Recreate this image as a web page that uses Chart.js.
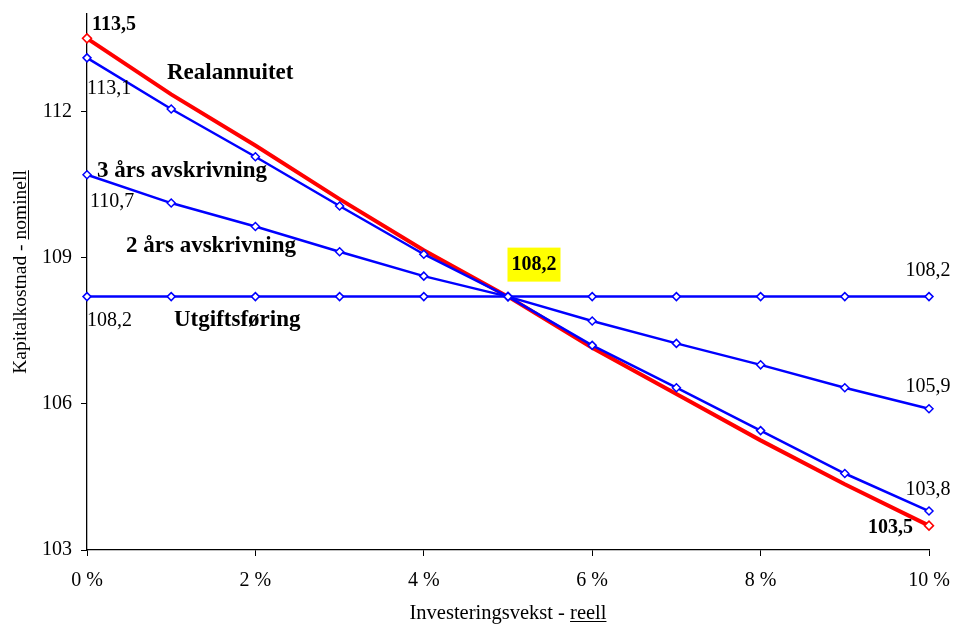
<!DOCTYPE html>
<html>
<head>
<meta charset="utf-8">
<script src="https://cdn.jsdelivr.net/npm/chart.js@4/dist/chart.umd.min.js"></script>
<style>
  html, body { margin: 0; padding: 0; background: #fff; }
  #wrap { width: 957px; height: 625px; position: relative; }
</style>
</head>
<body>
<div id="wrap"><canvas id="c" width="957" height="625"></canvas></div>
<script>
// ---- Data ----
const growthPct = [0, 1, 2, 3, 4, 5, 6, 7, 8, 9, 10];
const realannuitet = [113.5, 112.35, 111.3, 110.2, 109.15, 108.2, 107.15, 106.2, 105.25, 104.35, 103.5];
const ettArs = [113.1, 112.05, 111.07, 110.06, 109.07, 108.2, 107.2, 106.33, 105.45, 104.57, 103.8];
const treArs = [110.7, 110.12, 109.64, 109.12, 108.62, 108.2, 107.7, 107.24, 106.8, 106.33, 105.9];
const utgiftsforing = [108.2, 108.2, 108.2, 108.2, 108.2, 108.2, 108.2, 108.2, 108.2, 108.2, 108.2];
const yTicks = [103, 106, 109, 112];
const xTicks = [0, 2, 4, 6, 8, 10];

const SERIF = '"Liberation Serif", "Times New Roman", serif';
const BLUE = '#0000ff';
const RED = '#ff0000';

function pts(vals) { return vals.map((v, i) => ({ x: growthPct[i], y: v })); }

// value labels: [xValue, yValue, text, bold, align, dx, dy, highlight]
const valueLabels = [
  [0, 113.5, '113,5', true, 'left', 5, -14, false],
  [0, 113.1, '113,1', false, 'left', 0, 31, false],
  [0, 110.7, '110,7', false, 'left', 3, 27, false],
  [0, 108.2, '108,2', false, 'left', 0, 24, false],
  [5, 108.2, '108,2', true, 'center', 26, -32, true],
  [10, 108.2, '108,2', false, 'center', -1, -26, false],
  [10, 105.9, '105,9', false, 'center', -1, -22, false],
  [10, 103.8, '103,8', false, 'center', -1, -21, false],
  [10, 103.5, '103,5', true, 'right', -16, 2, false]
];
// series name labels: [xValue, yValue, text]
const nameLabels = [
  [0.95, 112.78, 'Realannuitet'],
  [0.119, 110.785, '3 års avskrivning'],
  [0.463, 109.24, '2 års avskrivning'],
  [1.033, 107.72, 'Utgiftsføring']
];

const labelPlugin = {
  id: 'labels',
  afterDatasetsDraw(chart) {
    const ctx = chart.ctx;
    const xs = chart.scales.x, ys = chart.scales.y;
    ctx.save();
    ctx.textBaseline = 'middle';
    valueLabels.forEach(([xv, yv, t, bold, align, dx, dy, hl]) => {
      const px = xs.getPixelForValue(xv) + dx;
      const py = ys.getPixelForValue(yv) + dy;
      ctx.font = (bold ? 'bold ' : '') + '20px ' + SERIF;
      ctx.textAlign = align;
      if (hl) {
        const w = ctx.measureText(t).width;
        ctx.fillStyle = '#ffff00';
        ctx.fillRect(px - w / 2 - 4, py - 17, w + 8, 34);
      }
      ctx.fillStyle = '#000';
      ctx.fillText(t, px, py);
    });
    ctx.font = 'bold 23px ' + SERIF;
    ctx.textAlign = 'left';
    nameLabels.forEach(([xv, yv, t]) => {
      ctx.fillStyle = '#000';
      ctx.fillText(t, xs.getPixelForValue(xv), ys.getPixelForValue(yv));
    });
    ctx.restore();
  }
};

const titlePlugin = {
  id: 'axisTitles',
  afterDraw(chart) {
    const ctx = chart.ctx;
    const ca = chart.chartArea;
    ctx.save();
    ctx.fillStyle = '#000';
    ctx.strokeStyle = '#000';
    ctx.lineWidth = 1;
    ctx.textBaseline = 'alphabetic';
    ctx.textAlign = 'left';
    // x title
    ctx.font = '20.5px ' + SERIF;
    const a = 'Investeringsvekst - ', b = 'reell';
    const wa = ctx.measureText(a).width, wb = ctx.measureText(b).width;
    let x0 = (ca.left + ca.right) / 2 - (wa + wb) / 2;
    const yb = 619;
    ctx.fillText(a, x0, yb);
    ctx.fillText(b, x0 + wa, yb);
    ctx.beginPath();
    ctx.moveTo(x0 + wa, yb + 2.5);
    ctx.lineTo(x0 + wa + wb, yb + 2.5);
    ctx.stroke();
    // y title
    ctx.font = '19.5px ' + SERIF;
    const c = 'Kapitalkostnad - ', d = 'nominell';
    const wc = ctx.measureText(c).width, wd = ctx.measureText(d).width;
    ctx.translate(26, 272);
    ctx.rotate(-Math.PI / 2);
    const s = -(wc + wd) / 2;
    ctx.fillText(c, s, 0);
    ctx.fillText(d, s + wc, 0);
    ctx.beginPath();
    ctx.moveTo(s + wc, 2.5);
    ctx.lineTo(s + wc + wd, 2.5);
    ctx.stroke();
    ctx.restore();
  }
};

const blueStyle = {
  borderColor: BLUE, borderWidth: 2.5, tension: 0, clip: false,
  pointStyle: 'rectRot', pointRadius: 4, pointBorderWidth: 1.5,
  pointBackgroundColor: '#fff', pointBorderColor: BLUE, fill: false
};

new Chart(document.getElementById('c'), {
  type: 'line',
  data: {
    datasets: [
      Object.assign({ label: 'Utgiftsføring', data: pts(utgiftsforing) }, blueStyle),
      Object.assign({ label: '2 års avskrivning', data: pts(treArs) }, blueStyle),
      Object.assign({ label: '1 års avskrivning', data: pts(ettArs) }, blueStyle),
      {
        label: 'Realannuitet', data: pts(realannuitet),
        borderColor: RED, borderWidth: 4, tension: 0, fill: false, clip: false,
        pointStyle: 'rectRot',
        pointRadius: growthPct.map((v, i) => (i === 0 || i === growthPct.length - 1) ? 4.5 : 0),
        pointBorderWidth: 1.5, pointBackgroundColor: '#fff', pointBorderColor: RED
      }
    ]
  },
  options: {
    responsive: false,
    animation: false,
    layout: { padding: { left: 0, right: 28, top: 14, bottom: 0 } },
    plugins: { legend: { display: false }, tooltip: { enabled: false } },
    scales: {
      x: {
        type: 'linear', min: 0, max: 10,
        afterBuildTicks(scale) { scale.ticks = xTicks.map(v => ({ value: v })); },
        afterFit(scale) { scale.height = 75; scale.paddingLeft = 0; scale.paddingRight = 0; },
        ticks: {
          color: '#000', font: { family: SERIF, size: 20 }, padding: 13,
          maxRotation: 0, autoSkip: false,
          callback: v => v + ' %'
        },
        grid: { display: true, drawOnChartArea: false, drawTicks: true, tickLength: 6, color: '#000' },
        border: { display: true, color: '#000', width: 1.3 }
      },
      y: {
        type: 'linear', min: 103, max: 114,
        afterBuildTicks(scale) { scale.ticks = yTicks.map(v => ({ value: v })); },
        afterFit(scale) { scale.width = 87; scale.paddingTop = 0; scale.paddingBottom = 0; },
        ticks: {
          color: '#000', font: { family: SERIF, size: 20 }, padding: 9,
          callback: v => String(v)
        },
        grid: { display: true, drawOnChartArea: false, drawTicks: true, tickLength: 6, color: '#000' },
        border: { display: true, color: '#000', width: 1.3 }
      }
    }
  },
  plugins: [labelPlugin, titlePlugin]
});
</script>
</body>
</html>
